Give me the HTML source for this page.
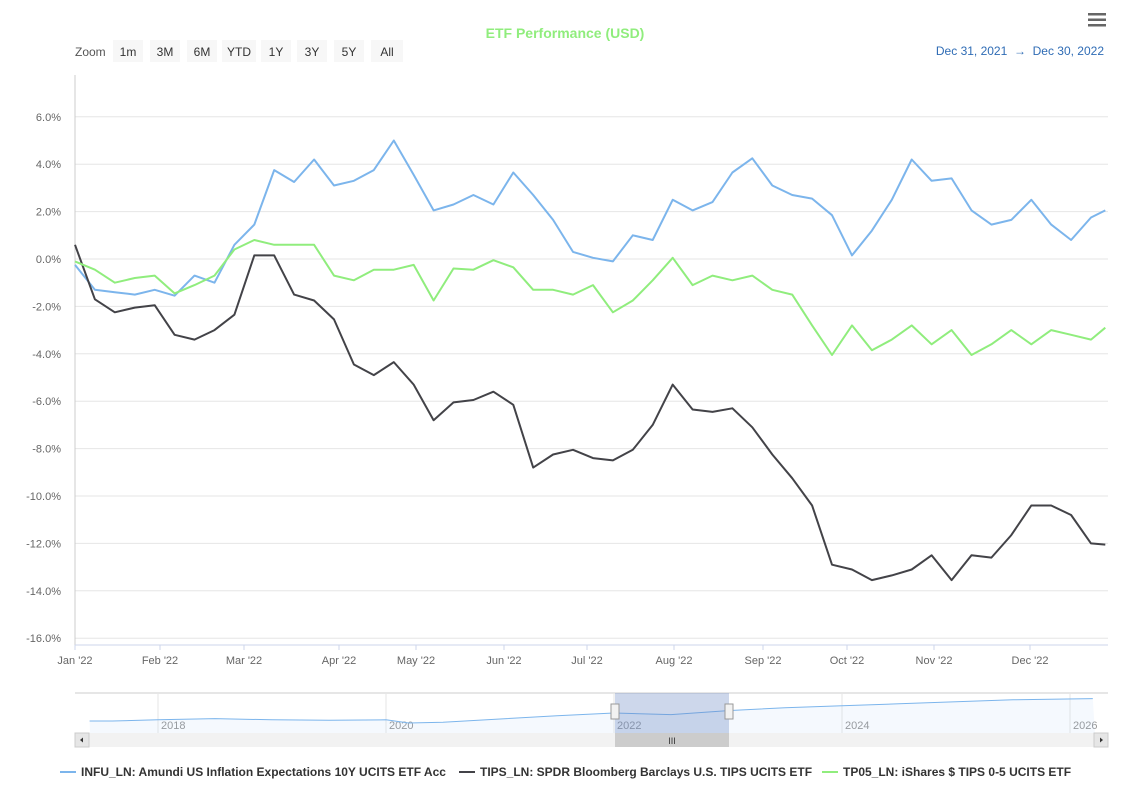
<!DOCTYPE html>
<html><head><meta charset="utf-8"><style>
body{margin:0;background:#fff;width:1131px;height:804px;overflow:hidden;font-family:"Liberation Sans",sans-serif}
svg text{font-family:"Liberation Sans",sans-serif}
</style></head><body>
<svg id="c" width="1131" height="804" xmlns="http://www.w3.org/2000/svg">
<text x="565" y="38" text-anchor="middle" font-size="14" font-weight="bold" fill="#90ed7d">ETF Performance (USD)</text>
<g><rect x="1088" y="13" width="18" height="2.5" fill="#666"/><rect x="1088" y="18.5" width="18" height="2.5" fill="#666"/><rect x="1088" y="24" width="18" height="2.5" fill="#666"/></g>
<text x="75" y="56" font-size="12" fill="#555">Zoom</text>
<g id="zoombtns"></g>
<text x="1104" y="55" text-anchor="end" font-size="12" fill="#2f6cb5">Dec 31, 2021 &#160;→ &#160;Dec 30, 2022</text>
<g id="grid"></g>
<line x1="75" y1="75" x2="75" y2="645" stroke="#ccc"/>
<line x1="75" y1="645" x2="1108" y2="645" stroke="#ccd6eb"/>
<g id="xt"></g>
<g id="series"></g>
<g>
<rect x="75" y="693" width="1033" height="40" fill="#fff"/>
<line x1="75" y1="693" x2="1108" y2="693" stroke="#ccc"/>
<g id="nav"></g>
<rect x="615" y="693" width="114" height="40" fill="rgba(102,133,194,0.33)"/>
<rect x="611" y="704" width="8" height="15" fill="#f2f2f2" stroke="#999"/>
<rect x="725" y="704" width="8" height="15" fill="#f2f2f2" stroke="#999"/>
<rect x="75" y="733" width="1033" height="14" fill="#f2f2f2"/>
<rect x="75" y="733" width="14" height="14" fill="#e6e6e6" stroke="#ccc"/>
<path d="M80,740 l3,-2.5 v5z" fill="#333"/>
<rect x="1094" y="733" width="14" height="14" fill="#e6e6e6" stroke="#ccc"/>
<path d="M1103,740 l-3,-2.5 v5z" fill="#333"/>
<rect x="615" y="733" width="114" height="14" fill="#cccccc"/>
<text x="672" y="744" text-anchor="middle" font-size="9" fill="#333">III</text>
</g>
<g id="legend"></g>
</svg>
<script>
const days=[0,7,14,21,28,35,42,49,56,63,70,77,84,91,98,105,112,119,126,133,140,147,154,161,168,175,182,189,196,203,210,217,224,231,238,245,252,259,266,273,280,287,294,301,308,315,322,329,336,343,350,357,362];
const infu=[-0.25,-1.3,-1.4,-1.5,-1.3,-1.55,-0.7,-1.0,0.6,1.45,3.75,3.25,4.2,3.1,3.3,3.75,5.0,3.55,2.05,2.3,2.7,2.3,3.65,2.7,1.65,0.3,0.05,-0.1,1.0,0.8,2.5,2.05,2.4,3.65,4.25,3.1,2.7,2.55,1.85,0.15,1.2,2.5,4.2,3.3,3.4,2.05,1.45,1.65,2.5,1.45,0.8,1.75,2.05];
const tips=[0.6,-1.7,-2.25,-2.05,-1.95,-3.2,-3.4,-3.0,-2.35,0.15,0.15,-1.5,-1.75,-2.55,-4.45,-4.9,-4.35,-5.3,-6.8,-6.05,-5.95,-5.6,-6.15,-8.8,-8.25,-8.05,-8.4,-8.5,-8.05,-7.0,-5.3,-6.35,-6.45,-6.3,-7.1,-8.25,-9.25,-10.4,-12.9,-13.1,-13.55,-13.35,-13.1,-12.5,-13.55,-12.5,-12.6,-11.65,-10.4,-10.4,-10.8,-12.0,-12.05];
const tp05=[-0.1,-0.45,-1.0,-0.8,-0.7,-1.45,-1.1,-0.7,0.4,0.8,0.6,0.6,0.6,-0.7,-0.9,-0.45,-0.45,-0.25,-1.75,-0.4,-0.45,-0.05,-0.35,-1.3,-1.3,-1.5,-1.1,-2.25,-1.75,-0.9,0.05,-1.1,-0.7,-0.9,-0.7,-1.3,-1.5,-2.8,-4.05,-2.8,-3.85,-3.4,-2.8,-3.6,-3.0,-4.05,-3.6,-3.0,-3.6,-3.0,-3.2,-3.4,-2.9];
const yTicks=[6,4,2,0,-2,-4,-6,-8,-10,-12,-14,-16];
const monthLabels=["Jan '22","Feb '22","Mar '22","Apr '22","May '22","Jun '22","Jul '22","Aug '22","Sep '22","Oct '22","Nov '22","Dec '22"];
const navYears=["2018","2020","2022","2024","2026"];
const navYearPos=[2018,2020,2022,2024,2026];
const navYearsData=[2017.4,2017.6,2018.0,2018.5,2019.0,2019.5,2020.0,2020.2,2020.5,2021.0,2021.5,2022.0,2022.5,2023.0,2023.5,2024.0,2024.5,2025.0,2025.5,2026.2];
const navValues=[0,0,0.3,0.6,0.3,0.2,0.3,-0.5,-0.3,0.5,1.3,2.0,1.6,2.6,3.3,3.8,4.3,4.8,5.3,5.6];
const zoomLabels=["1m","3M","6M","YTD","1Y","3Y","5Y","All"];
const legendLabels=["INFU_LN: Amundi US Inflation Expectations 10Y UCITS ETF Acc","TIPS_LN: SPDR Bloomberg Barclays U.S. TIPS UCITS ETF","TP05_LN: iShares $ TIPS 0-5 UCITS ETF"];
const colors=["#7cb5ec","#434348","#90ed7d"];
const NS="http://www.w3.org/2000/svg";
function x(d){return 75+d*2.846;}
function y(v){return 259-v*23.7;}
function nx(yr){return 158+(yr-2018)*114;}
function ny(v){return 721-v*4;}
function mk(t,a,p){const e=document.createElementNS(NS,t);for(const k in a)e.setAttribute(k,a[k]);if(p)p.appendChild(e);return e;}
const zb=document.getElementById('zoombtns');
const zx=[113,150,187,222,261,297,334,371];const zw=[30,30,30,34,30,30,30,32];
zoomLabels.forEach((l,i)=>{const g=mk('g',{},zb);


mk('rect',{x:zx[i],y:40,width:zw[i],height:22,fill:'#f7f7f7'},g);
const t=mk('text',{x:zx[i]+zw[i]/2,y:56,'text-anchor':'middle','font-size':12,fill:'#333'},g);t.textContent=l;});
const grid=document.getElementById('grid');
yTicks.forEach(v=>{const l=mk('line',{x1:75,x2:1108,y1:y(v),y2:y(v),stroke:'#e6e6e6'},grid);


const t=mk('text',{x:61,y:y(v)+4,'text-anchor':'end','font-size':11,fill:'#666'},grid);


t.textContent=v.toFixed(1)+'%';});
const xt=document.getElementById('xt');
const mpos=[75,160,244,339,416,504,587,674,763,847,934,1030];
monthLabels.forEach((l,i)=>{const px=mpos[i];
mk('line',{x1:px,x2:px,y1:645,y2:650,stroke:'#ccd6eb'},xt);
const t=mk('text',{x:px,y:664,'text-anchor':'middle','font-size':11,fill:'#666'},xt);


t.textContent=l;});
const sg=document.getElementById('series');
[infu,tips,tp05].forEach((s,k)=>{const d=s.map((v,i)=>(i?'L':'M')+x(days[i]).toFixed(1)+','+y(v).toFixed(1)).join(' ');
const p=mk('path',{d:d,fill:'none',stroke:colors[k],'stroke-width':2,'stroke-linejoin':'round'},sg);

});
const nav=document.getElementById('nav');
navYears.forEach((l,i)=>{const px=nx(navYearPos[i]);mk('line',{x1:px,x2:px,y1:693,y2:733,stroke:'#e6e6e6'},nav);
const t=mk('text',{x:px+3,y:729,'font-size':11,fill:'#999'},nav);


t.textContent=l;});
const nd=navValues.map((v,i)=>(i?'L':'M')+Math.min(1095,nx(navYearsData[i])).toFixed(1)+','+ny(v).toFixed(1)).join(' ');
mk('path',{d:nd+' L1095,733 L90,733 Z',fill:'rgba(124,181,236,0.08)',stroke:'none'},nav);
const np=mk('path',{d:nd,fill:'none',stroke:'#7cb5ec','stroke-width':1},nav);


const lg=document.getElementById('legend');const lx=[60,459,822];
legendLabels.forEach((l,i)=>{const g=mk('g',{},lg);


mk('line',{x1:lx[i],x2:lx[i]+16,y1:772,y2:772,stroke:colors[i],'stroke-width':2},g);
const t=mk('text',{x:lx[i]+21,y:776,'font-size':12,'font-weight':'bold',fill:'#333'},g);t.textContent=l;});
</script>
</body></html>
